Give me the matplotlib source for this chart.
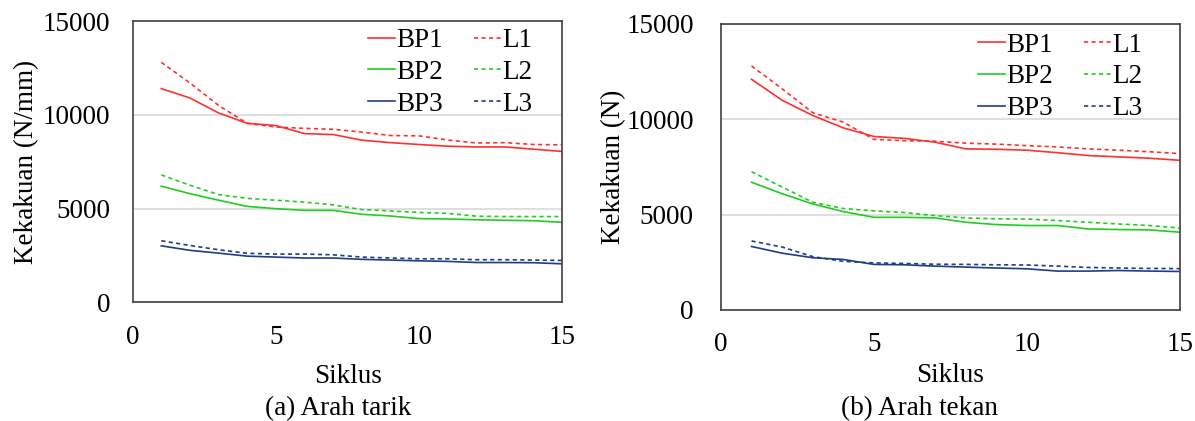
import matplotlib
matplotlib.use("Agg")
import matplotlib.pyplot as plt

plt.rcParams['font.family'] = ['Liberation Serif', 'DejaVu Serif']

siklus = list(range(1, 16))

# (a) Arah tarik
tarik_bp1 = [11400, 10900, 10100, 9550, 9430, 9000, 8950, 8650, 8520, 8420, 8330, 8290, 8290, 8170, 8050]
tarik_l1 = [12800, 11700, 10500, 9550, 9350, 9280, 9230, 9080, 8900, 8880, 8660, 8500, 8520, 8420, 8400]
tarik_bp2 = [6200, 5800, 5450, 5120, 5000, 4910, 4910, 4700, 4610, 4470, 4450, 4410, 4380, 4360, 4270]
tarik_l2 = [6800, 6250, 5750, 5550, 5450, 5350, 5200, 4950, 4880, 4800, 4750, 4600, 4580, 4580, 4580]
tarik_bp3 = [3020, 2780, 2630, 2470, 2420, 2370, 2370, 2300, 2260, 2220, 2190, 2130, 2130, 2120, 2060]
tarik_l3 = [3290, 3040, 2810, 2620, 2580, 2580, 2540, 2420, 2370, 2330, 2330, 2280, 2280, 2260, 2240]

# (b) Arah tekan
tekan_bp1 = [12100, 11000, 10200, 9550, 9100, 9000, 8800, 8450, 8430, 8380, 8250, 8100, 8030, 7960, 7850]
tekan_l1 = [12800, 11600, 10350, 9850, 8950, 8880, 8850, 8750, 8700, 8620, 8550, 8450, 8380, 8300, 8200]
tekan_bp2 = [6700, 6100, 5560, 5160, 4860, 4860, 4830, 4600, 4480, 4430, 4430, 4250, 4220, 4200, 4080]
tekan_l2 = [7250, 6450, 5650, 5320, 5200, 5110, 4950, 4830, 4780, 4770, 4690, 4600, 4510, 4430, 4300]
tekan_bp3 = [3330, 2980, 2740, 2650, 2390, 2370, 2300, 2250, 2200, 2160, 2040, 2040, 2070, 2040, 2020]
tekan_l3 = [3620, 3300, 2800, 2550, 2470, 2440, 2400, 2390, 2370, 2360, 2300, 2230, 2200, 2180, 2170]

colors = ["#FF3030", "#22CC22", "#1F3C88"]
fs = 19.5

fig = plt.figure(figsize=(11.95, 4.21), dpi=100)
ax1 = fig.add_axes([0.111, 0.2815, 0.3597, 0.6685])
ax2 = fig.add_axes([0.6033, 0.2637, 0.3841, 0.6793])


def draw(ax, bp, ls, ylabel, ypad, ylabpad, xpad, leg_x, leg_y):
    for i in range(3):
        ax.plot(siklus, bp[i], color=colors[i], lw=1.2, label="BP%d" % (i + 1))
    for i in range(3):
        ax.plot(siklus, ls[i], color=colors[i], lw=1.2, ls=(0, (2.5, 2)), label="L%d" % (i + 1))
    ax.set_xlim(0, 15)
    ax.set_ylim(0, 15000)
    ax.set_xticks([0, 5, 10, 15])
    ax.set_yticks([0, 5000, 10000, 15000])
    ax.yaxis.grid(True, color="#D9D9D9", lw=1.2)
    ax.set_axisbelow(True)
    ax.tick_params(length=0, labelsize=fs)
    ax.tick_params(axis="y", pad=ypad)
    ax.tick_params(axis="x", pad=16)
    for s in ax.spines.values():
        s.set_color("#404040")
        s.set_linewidth(1.2)
    ax.set_xlabel("Siklus", fontsize=fs, labelpad=xpad)
    ax.set_ylabel(ylabel, fontsize=fs, labelpad=ylabpad)
    ax.legend(ncol=2, loc="upper right", bbox_to_anchor=(leg_x, leg_y),
              frameon=False, fontsize=fs, borderaxespad=0, borderpad=0,
              handlelength=1.0, handletextpad=0.05, columnspacing=1.15,
              labelspacing=0.25)


draw(ax1, [tarik_bp1, tarik_bp2, tarik_bp3], [tarik_l1, tarik_l2, tarik_l3],
     "Kekakuan (N/mm)", 16, 3, 10, 0.93, 0.975)
draw(ax2, [tekan_bp1, tekan_bp2, tekan_bp3], [tekan_l1, tekan_l2, tekan_l3],
     "Kekakuan (N)", 19.5, 0, 4, 0.919, 0.97)

fig.text(0.283, 0.03, "(a) Arah tarik", ha="center", va="center", fontsize=fs)
fig.text(0.769, 0.03, "(b) Arah tekan", ha="center", va="center", fontsize=fs)

fig.savefig("out.png", dpi=100)
